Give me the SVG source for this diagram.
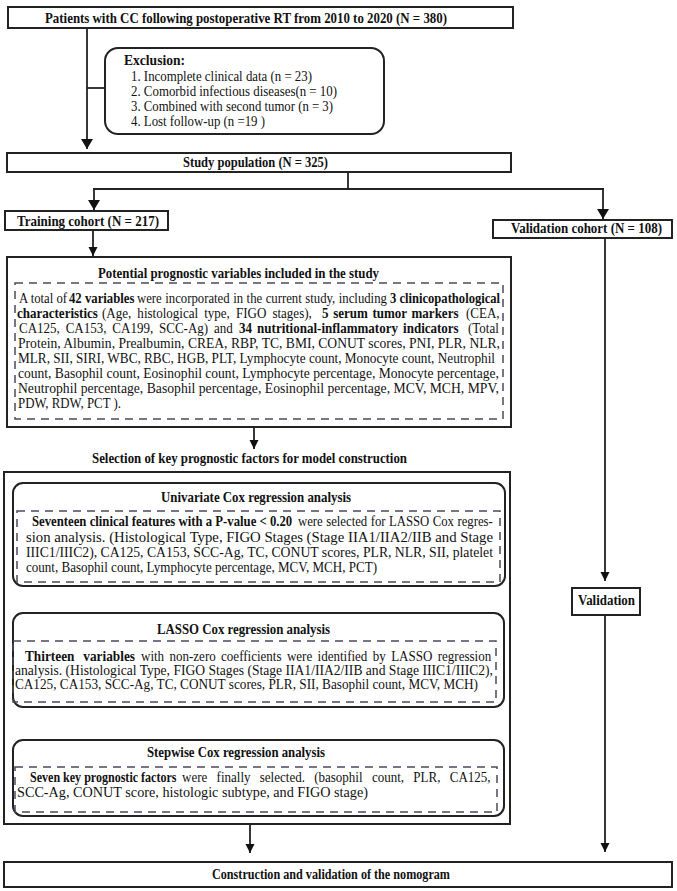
<svg xmlns="http://www.w3.org/2000/svg" width="677" height="891" viewBox="0 0 677 891">
<style>
.t{font-family:"Liberation Serif","Times New Roman",serif;font-size:14px;fill:#111}
.b{font-weight:bold}
.box{fill:#fff;stroke:#222;stroke-width:2}
.dash{fill:none;stroke:#4a4a5c;stroke-width:1.5;stroke-dasharray:8 6}
.ln{fill:none;stroke:#222;stroke-width:1.8}
</style>
<defs>
<marker id="ahL" markerUnits="userSpaceOnUse" markerWidth="12" markerHeight="12" viewBox="0 0 12 12" refX="10" refY="6" orient="auto">
<path d="M0,0 L10,6 L0,12 z" fill="#111"/>
</marker>
<marker id="ah" markerUnits="userSpaceOnUse" markerWidth="10" markerHeight="10" viewBox="0 0 10 10" refX="9" refY="5" orient="auto">
<path d="M0,0.5 L9,5 L0,9.5 z" fill="#111"/>
</marker>
</defs>
<rect width="677" height="891" fill="#fff"/>

<g id="connectors">
<line class="ln" x1="87" y1="28" x2="87" y2="149" marker-end="url(#ahL)"/>
<line class="ln" x1="87" y1="88" x2="105" y2="88"/>
<line class="ln" x1="348" y1="172" x2="348" y2="189"/>
<line class="ln" x1="93" y1="189" x2="604" y2="189"/>
<line class="ln" x1="94" y1="189" x2="94" y2="210" marker-end="url(#ahL)"/>
<line class="ln" x1="603" y1="189" x2="603" y2="219" marker-end="url(#ahL)"/>
<line class="ln" x1="93" y1="230" x2="93" y2="256" marker-end="url(#ah)"/>
<line class="ln" x1="254" y1="427" x2="254" y2="449" marker-end="url(#ah)"/>
<line class="ln" x1="250" y1="586" x2="250" y2="611" marker-end="url(#ah)"/>
<line class="ln" x1="250" y1="707" x2="250" y2="735" marker-end="url(#ah)"/>
<line class="ln" x1="250" y1="824" x2="250" y2="853" marker-end="url(#ah)"/>
<line class="ln" x1="605" y1="238" x2="605" y2="581" marker-end="url(#ah)"/>
<line class="ln" x1="605" y1="615" x2="605" y2="852" marker-end="url(#ah)"/>
</g>

<g id="patients">
<rect class="box" x="8" y="7" width="505" height="21"/>
<text class="t b" x="45" y="23" textLength="402" lengthAdjust="spacingAndGlyphs">Patients with CC following postoperative RT from 2010 to 2020 (N = 380)</text>
</g>

<g id="exclusion">
<rect class="box" x="105" y="48" width="279" height="86" rx="13"/>
<text class="t b" x="124" y="65" textLength="61" lengthAdjust="spacingAndGlyphs">Exclusion:</text>
<text class="t" x="131" y="81" textLength="181" lengthAdjust="spacingAndGlyphs">1. Incomplete clinical data (n = 23)</text>
<text class="t" x="131" y="96" textLength="206" lengthAdjust="spacingAndGlyphs">2. Comorbid infectious diseases(n = 10)</text>
<text class="t" x="131" y="111" textLength="202" lengthAdjust="spacingAndGlyphs">3. Combined with second tumor (n = 3)</text>
<text class="t" x="131" y="126" textLength="134" lengthAdjust="spacingAndGlyphs">4. Lost follow-up (n =19 )</text>
</g>

<g id="study">
<rect class="box" x="7" y="153" width="504" height="19"/>
<text class="t b" x="183" y="167" textLength="145" lengthAdjust="spacingAndGlyphs">Study population (N = 325)</text>
</g>

<g id="training">
<rect class="box" x="5" y="211" width="163" height="19"/>
<text class="t b" x="17" y="226" textLength="142" lengthAdjust="spacingAndGlyphs">Training cohort (N = 217)</text>
</g>

<g id="validation-cohort">
<rect class="box" x="493" y="220" width="179" height="18"/>
<text class="t b" x="511" y="233" textLength="151" lengthAdjust="spacingAndGlyphs">Validation cohort (N = 108)</text>
</g>

<g id="potential">
<rect class="box" x="7" y="257" width="504" height="170"/>
<text class="t b" x="98" y="278" textLength="281" lengthAdjust="spacingAndGlyphs">Potential prognostic variables included in the study</text>
<rect class="dash" x="15" y="283" width="488" height="136"/>
<text class="t" transform="translate(19,303) scale(0.91,1)">A total of</text>
<text class="t b" transform="translate(69,303) scale(0.91,1)">42 variables</text>
<text class="t" transform="translate(137,303) scale(0.91,1)" style="word-spacing:0.4px">were incorporated in the current study, including</text>
<text class="t b" transform="translate(390,303) scale(0.9,1)">3 clinicopathological</text>
<text class="t b" transform="translate(17,318) scale(0.93,1)">characteristics</text>
<text class="t" transform="translate(102,318) scale(0.93,1)" style="word-spacing:3.1px">(Age, histological type, FIGO stages),</text>
<text class="t b" transform="translate(322,318) scale(0.93,1)" style="word-spacing:1.5px">5 serum tumor markers</text>
<text class="t" transform="translate(466,318) scale(0.93,1)">(CEA,</text>
<text class="t" transform="translate(19,333) scale(0.93,1)" style="word-spacing:2.8px">CA125, CA153, CA199, SCC-Ag) and</text>
<text class="t b" transform="translate(239,333) scale(0.93,1)" style="word-spacing:2px">34 nutritional-inflammatory indicators</text>
<text class="t" transform="translate(468,333) scale(0.93,1)">(Total</text>
<text class="t" x="18" y="348" textLength="482" lengthAdjust="spacingAndGlyphs">Protein, Albumin, Prealbumin, CREA,  RBP, TC, BMI, CONUT scores, PNI, PLR, NLR,</text>
<text class="t" x="18" y="363" textLength="477" lengthAdjust="spacingAndGlyphs">MLR, SII, SIRI, WBC, RBC, HGB,  PLT, Lymphocyte count, Monocyte count, Neutrophil</text>
<text class="t" x="18" y="378" textLength="481" lengthAdjust="spacingAndGlyphs">count, Basophil count, Eosinophil count, Lymphocyte percentage, Monocyte percentage,</text>
<text class="t" x="18" y="393" textLength="481" lengthAdjust="spacingAndGlyphs">Neutrophil percentage, Basophil percentage, Eosinophil percentage, MCV, MCH, MPV,</text>
<text class="t" x="18" y="408" textLength="103" lengthAdjust="spacingAndGlyphs">PDW, RDW, PCT ).</text>
</g>

<g id="selection">
<text class="t b" x="92" y="463" textLength="315" lengthAdjust="spacingAndGlyphs">Selection of key prognostic factors for model construction</text>
<rect class="box" x="4" y="472" width="506" height="352" fill="none"/>
</g>

<g id="univariate">
<rect class="box" x="13" y="483" width="492" height="103" rx="10"/>
<text class="t b" x="161" y="502" textLength="190" lengthAdjust="spacingAndGlyphs">Univariate Cox regression analysis</text>
<rect class="dash" x="17" y="511" width="483" height="71"/>
<text class="t b" transform="translate(32,526) scale(0.91,1)">Seventeen clinical features with a P-value &lt; 0.20</text>
<text class="t" transform="translate(298,526) scale(0.91,1)" style="word-spacing:0.3px">were selected for LASSO Cox regres-</text>
<text class="t" x="26" y="542" textLength="467" lengthAdjust="spacingAndGlyphs">sion analysis. (Histological Type, FIGO Stages (Stage IIA1/IIA2/IIB and Stage</text>
<text class="t" x="26" y="557" textLength="467" lengthAdjust="spacingAndGlyphs">IIIC1/IIIC2), CA125, CA153, SCC-Ag, TC, CONUT scores, PLR, NLR, SII, platelet</text>
<text class="t" x="26" y="572" textLength="351" lengthAdjust="spacingAndGlyphs">count, Basophil count, Lymphocyte percentage, MCV, MCH, PCT)</text>
</g>

<g id="lasso">
<rect class="box" x="13" y="613" width="491" height="94" rx="10"/>
<text class="t b" x="157" y="634" textLength="173" lengthAdjust="spacingAndGlyphs">LASSO Cox regression analysis</text>
<rect class="dash" x="13" y="641" width="483" height="61"/>
<text class="t b" transform="translate(25,661) scale(0.95,1)" style="word-spacing:5.8px">Thirteen variables</text>
<text class="t" transform="translate(141,661) scale(0.93,1)" style="word-spacing:2.3px">with non-zero coefficients were identified by LASSO regression</text>
<text class="t" x="15" y="675" textLength="478" lengthAdjust="spacingAndGlyphs">analysis. (Histological Type, FIGO Stages (Stage IIA1/IIA2/IIB and Stage IIIC1/IIIC2),</text>
<text class="t" x="15" y="689" textLength="463" lengthAdjust="spacingAndGlyphs">CA125, CA153, SCC-Ag, TC, CONUT scores, PLR, SII, Basophil count, MCV, MCH)</text>
</g>

<g id="stepwise">
<rect class="box" x="13" y="740" width="491" height="76" rx="10"/>
<text class="t b" x="147" y="757" textLength="178" lengthAdjust="spacingAndGlyphs">Stepwise Cox regression analysis</text>
<rect class="dash" x="15" y="767" width="482" height="45"/>
<text class="t b" transform="translate(30,782) scale(0.86,1)">Seven key prognostic factors</text>
<text class="t" transform="translate(182,782) scale(0.93,1)" style="word-spacing:6.5px">were finally selected. (basophil count, PLR, CA125,</text>
<text class="t" x="17" y="797" textLength="351" lengthAdjust="spacingAndGlyphs">SCC-Ag, CONUT score, histologic subtype, and FIGO stage)</text>
</g>

<g id="validation">
<rect class="box" x="572" y="588" width="68" height="27"/>
<text class="t b" x="578" y="605" textLength="57" lengthAdjust="spacingAndGlyphs">Validation</text>
</g>

<g id="nomogram">
<rect class="box" x="4" y="862" width="668" height="25"/>
<text class="t b" x="212" y="879" textLength="238" lengthAdjust="spacingAndGlyphs">Construction and validation of the nomogram</text>
</g>
</svg>
